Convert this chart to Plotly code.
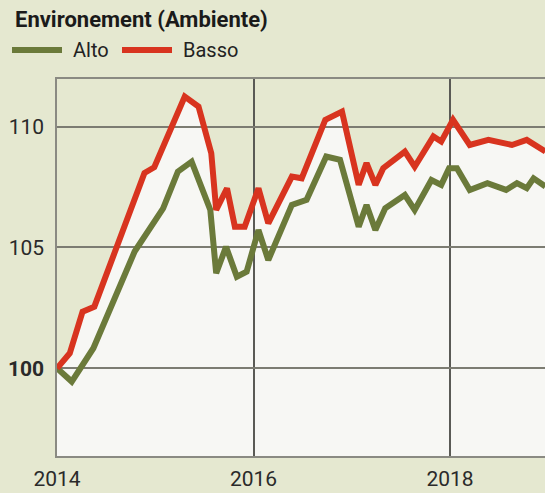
import plotly.graph_objects as go

# Index series (base 100 = start of 2014), x in decimal years
alto_x = [2014.0, 2014.15, 2014.37, 2014.60, 2014.79, 2015.08, 2015.23, 2015.37,
          2015.56, 2015.62, 2015.72, 2015.83, 2015.93, 2016.05, 2016.15, 2016.39,
          2016.54, 2016.74, 2016.88, 2017.07, 2017.15, 2017.24, 2017.34, 2017.54,
          2017.64, 2017.81, 2017.91, 2017.99, 2018.07, 2018.20, 2018.38, 2018.57,
          2018.68, 2018.78, 2018.85, 2018.97]
alto_y = [100.0, 99.45, 100.83, 103.03, 104.83, 106.62, 108.14, 108.55,
          106.55, 103.93, 105.03, 103.79, 104.00, 105.72, 104.48, 106.76,
          106.97, 108.76, 108.63, 105.86, 106.76, 105.72, 106.62, 107.17,
          106.55, 107.79, 107.59, 108.28, 108.28, 107.38, 107.66, 107.38,
          107.66, 107.45, 107.86, 107.52]

basso_x = [2014.0, 2014.13, 2014.26, 2014.38, 2014.89, 2014.99, 2015.30, 2015.44,
           2015.57, 2015.62, 2015.73, 2015.81, 2015.91, 2016.05, 2016.15, 2016.39,
           2016.49, 2016.73, 2016.90, 2017.07, 2017.15, 2017.24, 2017.32, 2017.54,
           2017.64, 2017.83, 2017.91, 2018.03, 2018.20, 2018.39, 2018.63, 2018.78,
           2018.97]
basso_y = [100.0, 100.62, 102.34, 102.55, 108.08, 108.32, 111.24, 110.83,
           108.90, 106.55, 107.45, 105.86, 105.86, 107.45, 106.00, 107.93,
           107.86, 110.28, 110.62, 107.59, 108.49, 107.59, 108.28, 108.97,
           108.34, 109.59, 109.38, 110.28, 109.24, 109.45, 109.24, 109.45,
           108.97]

x_ticks = [2014, 2016, 2018]
x_labels = ["2014", "2016", "2018"]
y_ticks = [100, 105, 110]
y_labels = ["<b>100</b>", "105", "110"]

X_RANGE = [2014.0, 2018.966]
Y_RANGE = [96.37, 111.97]

BG = "#e5e8d0"
PLOT_FILL = "#f7f7f4"
GREEN = "#6b7a3a"
RED = "#d8341f"
FONT = "Roboto"

W, H = 545, 493
ML, MR, MT, MB = 57, 0, 79, 37
PW, PH = W - ML - MR, H - MT - MB


def px(xp):
    return (xp - ML) / PW


def py(yp):
    return (H - MB - yp) / PH


fig = go.Figure()

# white area under the Basso line (bottom subplot, no axes drawn)
fig.add_trace(go.Scatter(
    x=basso_x, y=basso_y, mode="lines", line=dict(width=0, color=PLOT_FILL),
    fill="tozeroy", fillcolor=PLOT_FILL, hoverinfo="skip", showlegend=False,
    xaxis="x", yaxis="y"))

# series lines on the upper subplot so its grid sits above the fill
fig.add_trace(go.Scatter(
    x=alto_x, y=alto_y, mode="lines", name="Alto",
    line=dict(color=GREEN, width=6), showlegend=False,
    xaxis="x2", yaxis="y2"))
fig.add_trace(go.Scatter(
    x=basso_x, y=basso_y, mode="lines", name="Basso",
    line=dict(color=RED, width=6), showlegend=False,
    xaxis="x2", yaxis="y2"))

hidden = dict(visible=False, showgrid=False, zeroline=False, fixedrange=True)

fig.update_layout(
    width=W, height=H,
    margin=dict(l=ML, r=MR, t=MT, b=MB, pad=0),
    paper_bgcolor=BG, plot_bgcolor="rgba(0,0,0,0)",
    font=dict(family=FONT, color="#2a2a2a"),
    xaxis=dict(domain=[0, 1], range=X_RANGE, anchor="y", **hidden),
    yaxis=dict(domain=[0, 1], range=Y_RANGE, anchor="x", **hidden),
    xaxis2=dict(
        domain=[0, 1], range=X_RANGE, anchor="y2",
        tickvals=x_ticks, ticktext=x_labels,
        showgrid=True, gridcolor="#5a5a55", gridwidth=1.5,
        showline=True, linecolor="#8a8a82", linewidth=1.5, mirror=True,
        zeroline=False, ticks="", ticklabelstandoff=3,
        tickfont=dict(size=21, family=FONT, color="#2a2a2a"),
    ),
    yaxis2=dict(
        domain=[0, 1], range=Y_RANGE, anchor="x2",
        tickvals=y_ticks, ticktext=y_labels,
        showgrid=True, gridcolor="#7c7c72", gridwidth=1.5,
        showline=True, linecolor="#8a8a82", linewidth=1.5,
        zeroline=False, ticks="", ticklabelstandoff=7,
        tickfont=dict(size=21, family=FONT, color="#2a2a2a"),
    ),
    showlegend=False,
)

# base-100 reference line
fig.add_shape(type="line", xref="x2 domain", yref="y2",
              x0=0, x1=1, y0=100, y1=100,
              line=dict(color="#1e1e1e", width=2.5), layer="below")

# title
fig.add_annotation(text="<b>Environement (Ambiente)</b>", xref="paper", yref="paper",
                   x=px(13), y=py(19), xanchor="left", yanchor="middle",
                   showarrow=False, font=dict(size=22, family=FONT, color="#1a1a1a"))

# legend drawn by hand
for name, color, x0, x1, xt in [("Alto", GREEN, 12, 62, 71), ("Basso", RED, 122, 172, 181)]:
    fig.add_shape(type="line", xref="paper", yref="paper",
                  x0=px(x0), x1=px(x1), y0=py(50), y1=py(50),
                  line=dict(color=color, width=6))
    fig.add_annotation(text=name, xref="paper", yref="paper",
                       x=px(xt), y=py(50), xanchor="left", yanchor="middle",
                       showarrow=False, font=dict(size=20, family=FONT, color="#222222"))

fig.write_html("out.html")
